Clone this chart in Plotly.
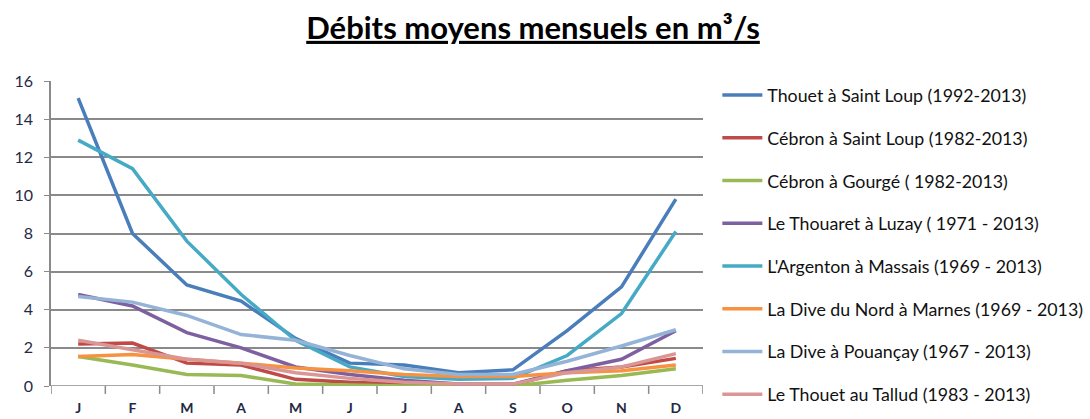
import plotly.graph_objects as go

# mois
mois = ["J", "F", "M", "A", "M", "J", "J", "A", "S", "O", "N", "D"]
xpos = list(range(12))

# débits moyens mensuels (m3/s)
thouet_st_loup = [15.1, 8.0, 5.3, 4.45, 2.5, 1.2, 1.1, 0.7, 0.85, 2.9, 5.2, 9.8]
cebron_st_loup = [2.2, 2.25, 1.2, 1.1, 0.35, 0.2, 0.1, 0.05, 0.05, 0.8, 1.0, 1.45]
cebron_gourge = [1.55, 1.1, 0.6, 0.55, 0.1, 0.05, 0.0, 0.0, 0.0, 0.3, 0.55, 0.9]
thouaret_luzay = [4.8, 4.2, 2.8, 2.0, 1.0, 0.6, 0.3, 0.1, 0.1, 0.8, 1.4, 2.9]
argenton_massais = [12.9, 11.4, 7.6, 4.8, 2.4, 1.0, 0.5, 0.35, 0.4, 1.6, 3.8, 8.1]
dive_nord_marnes = [1.55, 1.65, 1.4, 1.2, 0.95, 0.8, 0.6, 0.5, 0.5, 0.7, 0.8, 1.1]
dive_pouancay = [4.7, 4.4, 3.7, 2.7, 2.4, 1.6, 0.9, 0.6, 0.6, 1.3, 2.1, 2.95]
thouet_tallud = [2.4, 1.9, 1.4, 1.2, 0.7, 0.4, 0.2, 0.1, 0.1, 0.7, 1.0, 1.7]

series = [
    ("Thouet à Saint Loup (1992-2013)", thouet_st_loup, "#4A7EBB"),
    ("Cébron à Saint Loup (1982-2013)", cebron_st_loup, "#BE4B48"),
    ("Cébron à Gourgé ( 1982-2013)", cebron_gourge, "#98B954"),
    ("Le Thouaret à Luzay ( 1971 - 2013)", thouaret_luzay, "#7D60A0"),
    ("L'Argenton à Massais (1969 - 2013)", argenton_massais, "#46AAC5"),
    ("La Dive du Nord à Marnes (1969 - 2013)", dive_nord_marnes, "#F69240"),
    ("La Dive à Pouançay (1967 - 2013)", dive_pouancay, "#94B3D6"),
    ("Le Thouet au Tallud (1983 - 2013)", thouet_tallud, "#D99694"),
]

fig = go.Figure()
for i, (nom, vals, col) in enumerate(series):
    fig.add_trace(go.Scatter(x=xpos, y=vals, mode="lines", name=nom,
                             legendgroup=str(i),
                             line=dict(color=col, width=3.5)))

fig.update_layout(
    width=1090, height=419,
    margin=dict(l=51, r=387, t=81, b=33, autoexpand=False),
    paper_bgcolor="white", plot_bgcolor="white",
    font=dict(family="Lato, Open Sans, sans-serif", color="#1F2a44"),
    title=dict(text="<b><u>Débits moyens mensuels en m³/s</u></b>",
               x=0.489, xanchor="center", y=1 - 28 / 419, yanchor="middle",
               yref="container", font=dict(size=31, color="black")),
    showlegend=True,
    legend=dict(x=1.022, xanchor="left", y=1.013, yanchor="top",
                font=dict(size=17.8, color="#111"), tracegroupgap=16.6,
                itemwidth=40, maxheight=419),
)

fig.update_xaxes(
    range=[-0.5, 11.5], tickmode="array", tickvals=xpos, ticktext=mois,
    showgrid=False, ticks="", showline=False, zeroline=False,
    ticklabelstandoff=12,
    tickfont=dict(size=14, color="#1F2a44", weight="bold"),
)
# graduations entre les mois
for k in range(13):
    fig.add_shape(type="line", xref="x", yref="paper",
                  x0=k - 0.5, x1=k - 0.5, y0=0, y1=-0.026,
                  line=dict(color="#8a8a8a", width=1.5))
fig.add_shape(type="line", xref="paper", yref="y", x0=0, x1=1, y0=0, y1=0,
              line=dict(color="#8a8a8a", width=1.5), layer="below")

fig.update_yaxes(
    range=[0, 16], dtick=2, showgrid=True, gridcolor="#8a8a8a", gridwidth=1.5,
    showline=True, linecolor="#8a8a8a", linewidth=1.5,
    ticks="outside", ticklen=5, tickcolor="#8a8a8a", zeroline=False,
    ticklabelstandoff=8,
    tickfont=dict(size=16, color="#1F2a44"),
)

fig.write_html("out.html", config={"displayModeBar": False},
               post_script="document.body.style.margin='0';")
